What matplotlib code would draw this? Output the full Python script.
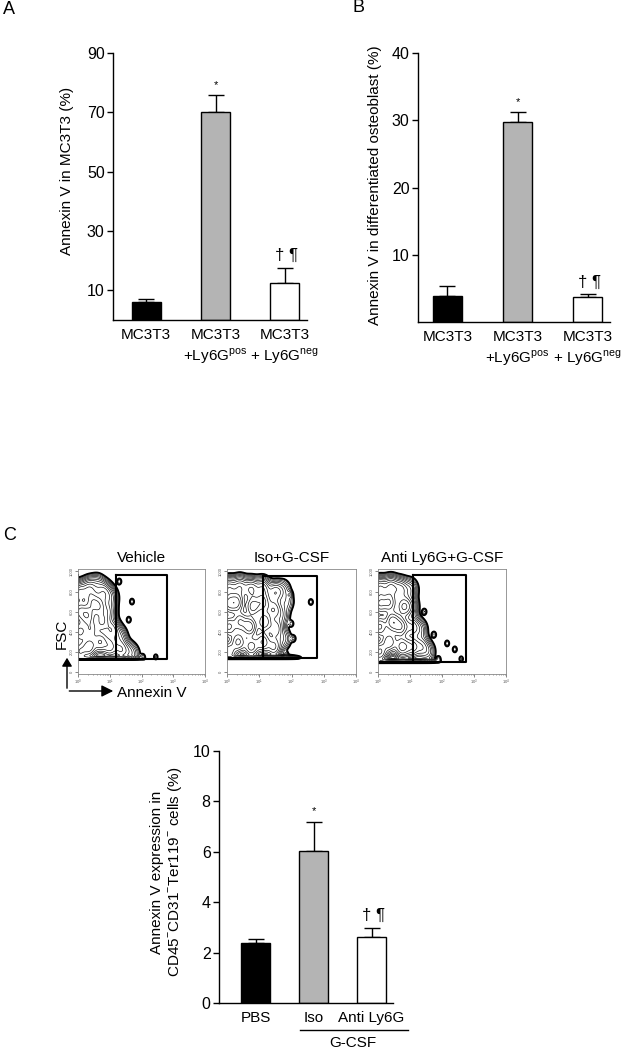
import numpy as np
import matplotlib
matplotlib.use("Agg")
import matplotlib.pyplot as plt
from matplotlib.patches import FancyArrowPatch
from matplotlib.ticker import LogLocator, NullFormatter, LogFormatterMathtext

plt.rcParams['font.family'] = ['Liberation Sans', 'DejaVu Sans']
plt.rcParams['mathtext.fontset'] = 'custom'
plt.rcParams['mathtext.rm'] = 'Liberation Sans'

# ---- bar data ----
a_labels = ["MC3T3", "MC3T3\n+Ly6G$^{\\mathrm{pos}}$", "MC3T3\n+ Ly6G$^{\\mathrm{neg}}$"]
a_vals = [6.1, 70.0, 12.5]
a_err = [1.0, 6.0, 5.1]
a_marks = ["", "*", "\u2020 \u00b6"]

b_labels = a_labels
b_vals = [3.9, 29.7, 3.7]
b_err = [1.4, 1.6, 0.4]
b_marks = ["", "*", "\u2020 \u00b6"]

c_labels = ["PBS", "Iso", "Anti Ly6G"]
c_vals = [2.37, 6.02, 2.63]
c_err = [0.17, 1.18, 0.33]
c_marks = ["", "*", "\u2020 \u00b6"]

bar_colors = ["black", "#b4b4b4", "white"]

# ---- flow plots: event clusters ----
# (log10 annexin V, FSC, weight)
flow_titles = ["Vehicle", "Iso+G-CSF", "Anti Ly6G+G-CSF"]
veh_main = [(0.05, 200, 0.8), (0.05, 400, 0.9), (0.05, 600, 0.8), (0.05, 780, 0.5),
            (0.35, 250, 1.0), (0.4, 420, 0.7), (0.3, 560, 1.0), (0.45, 700, 0.6), (0.35, 820, 0.4),
            (0.7, 300, 0.8), (0.75, 500, 0.6), (0.65, 650, 0.7), (0.8, 790, 0.35), (0.6, 860, 0.15),
            (1.0, 250, 0.5), (1.05, 420, 0.4), (0.95, 600, 0.3), (1.0, 740, 0.2),
            (1.35, 220, 0.3), (1.3, 350, 0.15), (1.6, 200, 0.1), (1.75, 170, 0.05)]
veh_dots = [(1.7, 700, 0.05), (1.6, 520, 0.05), (2.05, 150, 0.04), (2.45, 150, 0.04), (1.3, 900, 0.05)]
veh_floor = [0.2, 0.6, 1.0, 1.4]

iso_main = [(0.05, 200, 0.8), (0.05, 450, 0.9), (0.05, 680, 0.8), (0.05, 830, 0.4),
            (0.35, 300, 0.9), (0.4, 500, 0.8), (0.3, 690, 0.9), (0.4, 840, 0.4),
            (0.75, 250, 0.7), (0.7, 450, 1.0), (0.8, 650, 0.7), (0.75, 820, 0.45),
            (1.1, 300, 0.6), (1.15, 500, 0.6), (1.1, 690, 0.5), (1.1, 830, 0.3),
            (1.45, 250, 0.35), (1.5, 430, 0.3), (1.45, 620, 0.3), (1.5, 790, 0.22),
            (1.75, 330, 0.1), (1.7, 560, 0.1), (1.75, 820, 0.07), (1.85, 700, 0.07)]
iso_dots = [(2.6, 696, 0.05), (2.06, 333, 0.05), (1.84, 167, 0.05), (1.95, 770, 0.05), (2.0, 480, 0.04)]
iso_floor = [0.2, 0.6, 1.0, 1.4, 1.7]

anti_main = [(0.05, 200, 0.9), (0.05, 450, 0.9), (0.05, 680, 0.8), (0.05, 830, 0.45),
             (0.35, 300, 0.8), (0.45, 500, 1.0), (0.35, 690, 0.8), (0.4, 840, 0.45),
             (0.75, 250, 0.7), (0.7, 450, 0.8), (0.8, 650, 0.6), (0.7, 820, 0.35),
             (1.05, 250, 0.4), (1.05, 450, 0.3), (1.0, 650, 0.2), (1.0, 820, 0.15),
             (1.35, 250, 0.2), (1.3, 420, 0.12), (1.55, 200, 0.1)]
anti_dots = [(1.75, 372, 0.05), (2.16, 284, 0.05), (2.4, 225, 0.05), (1.9, 130, 0.04),
             (2.6, 130, 0.04), (1.45, 600, 0.05)]
anti_floor = [0.2, 0.6, 1.0, 1.3]

flow_main = [veh_main, iso_main, anti_main]
flow_dots = [veh_dots, iso_dots, anti_dots]
flow_floor = [veh_floor, iso_floor, anti_floor]
gate_lo = [1.2, 1.13, 1.09]
gate_hi = [2.8, 2.78, 2.75]
gate_bottom = [127, 137, 98]
gate_top = [960, 955, 960]

W, H = 627, 1050
fig = plt.figure(figsize=(W / 100, H / 100), dpi=100)


def rect(x0, x1, y0, y1):
    return [x0 / W, 1 - y1 / H, (x1 - x0) / W, (y1 - y0) / H]


def bar_panel(ax, labels, vals, err, marks, xlim, ylim, yticks, width, ylabel, label_xy, mark_pad):
    x = np.arange(len(vals))
    ax.bar(x, vals, width=width, color=bar_colors, edgecolor="black", linewidth=1, zorder=2)
    ax.errorbar(x, vals, yerr=[np.zeros(len(err)), err], fmt="none", ecolor="black",
                elinewidth=1, capsize=5.5, capthick=1, zorder=1)
    for xi, v, e, m in zip(x, vals, err, marks):
        if m == "*":
            ax.text(xi, v + e + mark_pad, m, ha="center", va="bottom", fontsize=8)
        elif m:
            ax.text(xi + 0.03, v + e + mark_pad, m, ha="center", va="bottom", fontsize=12)
    ax.set_xlim(*xlim)
    ax.set_ylim(*ylim)
    ax.set_yticks(yticks)
    ax.set_xticks(x)
    ax.set_xticklabels(labels, fontsize=11, linespacing=1.25)
    ax.tick_params(axis="x", length=0, pad=6)
    ax.tick_params(axis="y", length=4, width=1, labelsize=11.5, pad=2)
    for s in ["top", "right"]:
        ax.spines[s].set_visible(False)
    for s in ["left", "bottom"]:
        ax.spines[s].set_linewidth(1)
    ax.set_ylabel(ylabel, fontsize=11)
    ax.yaxis.set_label_coords(*label_xy)


# ---- panel A ----
axA = fig.add_axes(rect(113, 307, 53, 320))
bar_panel(axA, a_labels, a_vals, a_err, a_marks, (-0.48, 2.32), (0, 90), [10, 30, 50, 70, 90],
          0.42, "Annexin V in MC3T3 (%)", (-0.2, 0.56), 1.5)

# ---- panel B ----
axB = fig.add_axes(rect(418, 610, 53, 322))
bar_panel(axB, b_labels, b_vals, b_err, b_marks, (-0.42, 2.32), (0, 40), [10, 20, 30, 40],
          0.41, "Annexin V in differentiated osteoblast (%)", (-0.19, 0.51), 0.6)

# ---- panel C bars ----
axC = fig.add_axes(rect(219, 393, 751, 1003))
bar_panel(axC, c_labels, c_vals, c_err, c_marks, (-0.63, 2.37), (0, 10), [0, 2, 4, 6, 8, 10],
          0.5, "Annexin V expression in\nCD45$^{-}$CD31$^{-}$Ter119$^{-}$ cells (%)", (-0.2, 0.52), 0.2)
axC.plot([0.76, 2.62], [-0.107, -0.107], color="black", lw=1, transform=axC.get_xaxis_transform(),
         clip_on=False)
axC.text(1.67, -0.16, "G-CSF", ha="center", va="center", fontsize=11,
         transform=axC.get_xaxis_transform())

# ---- panel C flow contour plots ----
gx = np.linspace(-0.1, 4.0, 300)
gy = np.linspace(-30, 1030, 300)
GX, GY = np.meshgrid(gx, gy)
flow_px = [(78, 205), (227, 356), (378, 506)]
levels = np.geomspace(0.02, 1.6, 15)
for i, (x0, x1) in enumerate(flow_px):
    ax = fig.add_axes(rect(x0, x1, 569, 674))
    b, t = gate_bottom[i], gate_top[i]
    Z = np.zeros_like(GX)
    for bx, by, w in flow_main[i]:
        Z += w * np.exp(-0.5 * (((GX - bx) / 0.14) ** 2 + ((GY - by) / 62) ** 2))
    for bx, by, w in flow_dots[i]:
        Z += w * np.exp(-0.5 * (((GX - bx) / 0.05) ** 2 + ((GY - by) / 22) ** 2))
    for bx in flow_floor[i]:
        Z += 0.35 * np.exp(-0.5 * (((GX - bx) / 0.25) ** 2 + ((GY - b - 8) / 12) ** 2))
    Z[GY < b - 8] = 0
    ax.contour(10 ** GX, GY, Z, levels=levels, colors="black", linewidths=0.45)
    ax.contour(10 ** GX, GY, Z, levels=[levels[0]], colors="black", linewidths=1.3)
    lo, hi = 10 ** gate_lo[i], 10 ** gate_hi[i]
    ax.plot([lo, hi, hi, lo, lo], [t, t, b, b, t], color="black", lw=1.5)
    ax.plot([1, lo], [b, b], color="black", lw=1.5)
    ax.plot([1.03, 1.03], [b, t], color="black", lw=1.5)
    ax.set_xscale("log")
    ax.set_xlim(1, 1e4)
    ax.set_ylim(-20, 1024)
    ax.set_yticks([0, 200, 400, 600, 800, 1000])
    ax.xaxis.set_major_locator(LogLocator(base=10))
    ax.xaxis.set_major_formatter(LogFormatterMathtext())
    ax.xaxis.set_minor_locator(LogLocator(base=10, subs=np.arange(2, 10)))
    ax.xaxis.set_minor_formatter(NullFormatter())
    ax.tick_params(axis="both", which="major", length=2, width=0.5, labelsize=3,
                   colors="#555555", pad=1)
    ax.tick_params(axis="x", which="minor", length=1, width=0.4, colors="#555555")
    plt.setp(ax.get_yticklabels(), rotation=90, va="center")
    for s in ax.spines.values():
        s.set_linewidth(0.6)
        s.set_color("#888888")
    ax.set_title(flow_titles[i], fontsize=11, pad=5)

# axis arrows for flow plots
fig.add_artist(FancyArrowPatch((67 / W, 1 - 691 / H), (67 / W, 1 - 655 / H),
               transform=fig.transFigure, arrowstyle="-|>,head_length=5,head_width=3",
               color="black", lw=1))
fig.add_artist(FancyArrowPatch((66.5 / W, 1 - 691 / H), (116 / W, 1 - 691 / H),
               transform=fig.transFigure, arrowstyle="-|>,head_length=7,head_width=3.5",
               color="black", lw=1))
fig.text(62 / W, 1 - 634 / H, "FSC", rotation=90, ha="center", va="center", fontsize=11)
fig.text(117 / W, 1 - 693 / H, "Annexin V", ha="left", va="center", fontsize=11)

# panel letters
fig.text(3 / W, 1 - 10 / H, "A", fontsize=13, va="center")
fig.text(353 / W, 1 - 8 / H, "B", fontsize=13, va="center")
fig.text(3 / W, 1 - 535 / H, "C", fontsize=13, va="center")

fig.savefig("out.png", dpi=100)
